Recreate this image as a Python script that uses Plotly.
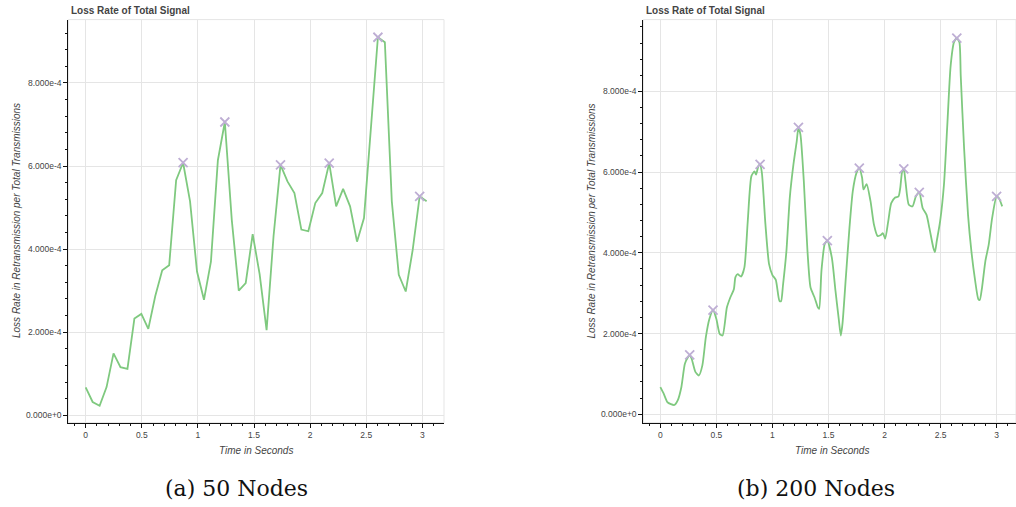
import plotly.graph_objects as go

SCALE = 1e-4

# ---------- (a) 50 nodes ----------
t50 = [0.000, 0.062, 0.124, 0.186, 0.248, 0.310, 0.372, 0.434, 0.496, 0.558,
       0.620, 0.682, 0.744, 0.806, 0.868, 0.930, 0.992, 1.054, 1.116, 1.178,
       1.240, 1.302, 1.364, 1.426, 1.488, 1.550, 1.612, 1.674, 1.736, 1.798,
       1.860, 1.922, 1.984, 2.046, 2.108, 2.170, 2.232, 2.294, 2.356, 2.418,
       2.480, 2.542, 2.604, 2.666, 2.728, 2.790, 2.852, 2.914, 2.976, 3.038]
loss50 = [0.67, 0.32, 0.23, 0.68, 1.49, 1.16, 1.12, 2.33, 2.44, 2.08,
          2.87, 3.49, 3.61, 5.66, 6.08, 5.15, 3.46, 2.78, 3.70, 6.14,
          7.06, 4.70, 3.00, 3.18, 4.36, 3.40, 2.05, 4.31, 6.03, 5.63,
          5.35, 4.47, 4.43, 5.11, 5.35, 6.07, 5.03, 5.45, 5.03, 4.18,
          4.75, 6.95, 9.10, 8.98, 5.15, 3.38, 2.98, 3.98, 5.27, 5.15]
peaks50_t = [0.868, 1.240, 1.736, 2.170, 2.604, 2.976]
peaks50_v = [6.08, 7.06, 6.03, 6.07, 9.10, 5.27]

# ---------- (b) 200 nodes ----------
t200 = [0.000, 0.030, 0.0625, 0.094, 0.125, 0.156, 0.1875, 0.219, 0.250, 0.262,
        0.280, 0.3125, 0.344, 0.375, 0.406, 0.4375, 0.470, 0.500, 0.530, 0.555,
        0.594, 0.625, 0.656, 0.670, 0.690, 0.720, 0.750, 0.780, 0.8125, 0.840,
        0.854, 0.875, 0.890, 0.906, 0.9375, 0.970, 1.000, 1.030, 1.0625, 1.077,
        1.094, 1.125, 1.155, 1.1875, 1.217, 1.232, 1.250, 1.280, 1.3125, 1.340,
        1.375, 1.405, 1.417, 1.4375, 1.467, 1.490, 1.530, 1.5625, 1.590, 1.610,
        1.625, 1.655, 1.6875, 1.717, 1.750, 1.775, 1.800, 1.8125, 1.840, 1.875,
        1.905, 1.9375, 1.967, 1.985, 2.006, 2.033, 2.060, 2.095, 2.125, 2.140,
        2.157, 2.172, 2.187, 2.217, 2.250, 2.280, 2.310, 2.340, 2.375, 2.400,
        2.436, 2.450, 2.466, 2.496, 2.530, 2.560, 2.590, 2.620, 2.645, 2.668,
        2.680, 2.710, 2.745, 2.775, 2.807, 2.837, 2.850, 2.870, 2.900, 2.930,
        2.960, 3.000, 3.020, 3.050]
loss200 = [0.67, 0.51, 0.30, 0.25, 0.23, 0.35, 0.67, 1.25, 1.43, 1.47,
           1.37, 1.05, 0.96, 1.21, 1.91, 2.36, 2.58, 2.36, 1.99, 1.95,
           2.65, 2.90, 3.10, 3.40, 3.47, 3.41, 3.64, 4.79, 5.90, 6.02,
           5.94, 6.15, 6.19, 5.98, 4.71, 3.72, 3.45, 3.33, 2.81, 2.80,
           3.19, 4.05, 5.37, 6.19, 6.77, 7.11, 6.93, 5.78, 4.05, 3.14,
           2.90, 2.65, 2.61, 3.56, 4.22, 4.30, 3.88, 3.06, 2.40, 1.95,
           2.24, 3.39, 4.63, 5.53, 5.98, 6.10, 5.86, 5.57, 5.70, 5.28,
           4.71, 4.42, 4.44, 4.49, 4.35, 4.78, 5.23, 5.37, 5.40, 5.60,
           6.01, 6.08, 5.77, 5.19, 5.15, 5.40, 5.50, 5.11, 4.94, 4.62,
           4.12, 4.02, 4.29, 4.78, 5.68, 7.16, 8.64, 9.22, 9.32, 9.22,
           8.39, 6.59, 4.94, 4.04, 3.34, 2.85, 2.83, 3.14, 3.80, 4.21,
           4.86, 5.40, 5.36, 5.15]
peaks200_t = [0.262, 0.470, 0.890, 1.232, 1.490, 1.775, 2.172, 2.310, 2.645, 3.000]
peaks200_v = [1.47, 2.58, 6.19, 7.11, 4.30, 6.10, 6.08, 5.50, 9.32, 5.40]

# ---------- axis text ----------
x_tickvals = [0, 0.5, 1, 1.5, 2, 2.5, 3]
x_ticktext = ["0", "0.5", "1", "1.5", "2", "2.5", "3"]
y_tickvals = [0, 2, 4, 6, 8]
y_ticktext = ["0.000e+0", "2.000e-4", "4.000e-4", "6.000e-4", "8.000e-4"]
title_text = "Loss Rate of Total Signal"
xlabel = "Time in Seconds"
ylabel = "Loss Rate in Retransmission per Total Transmissions"
captions = ["(a) 50 Nodes", "(b) 200 Nodes"]

W, H = 1016, 507
LINE = "#7fc97f"
MARK = "#beaed4"
GRID = "#e5e5e5"
AX = "#111111"
TXT = "#444444"
FONT = "Liberation Sans, Arial, sans-serif"

fig = go.Figure()

def add_panel(t, v, pt, pv, xa, ya, spline):
    fig.add_trace(go.Scatter(
        x=t, y=[a * SCALE for a in v], mode="lines",
        line=dict(color=LINE, width=1.8, shape="spline" if spline else "linear",
                  smoothing=0.6 if spline else None),
        xaxis=xa, yaxis=ya, showlegend=False, hoverinfo="skip"))
    fig.add_trace(go.Scatter(
        x=pt, y=[a * SCALE for a in pv], mode="markers",
        marker=dict(symbol="x-thin", size=9, line=dict(color=MARK, width=1.8), color=MARK),
        xaxis=xa, yaxis=ya, showlegend=False, hoverinfo="skip"))

add_panel(t50, loss50, peaks50_t, peaks50_v, "x", "y", False)
add_panel(t200, loss200, peaks200_t, peaks200_v, "x2", "y2", True)

def px_x(p):
    return p / W

def px_y(p):
    return (H - p) / H

def xaxis(domain, rng):
    return dict(
        domain=domain, range=rng, tickmode="array",
        tickvals=x_tickvals, ticktext=x_ticktext,
        showgrid=True, gridcolor=GRID, gridwidth=1, zeroline=False,
        showline=True, linecolor=AX, linewidth=1,
        ticks="outside", ticklen=4, tickcolor=AX, tickwidth=1,
        tickfont=dict(family=FONT, size=8.5, color=TXT),
        minor=dict(ticks="outside", ticklen=2.5, tickcolor=AX, dtick=0.1, tick0=0,
                   showgrid=False),
        fixedrange=True)

def yaxis(domain, rng, anchor):
    return dict(
        domain=domain, range=[r * SCALE for r in rng], anchor=anchor, tickmode="array",
        tickvals=[v * SCALE for v in y_tickvals], ticktext=y_ticktext,
        showgrid=True, gridcolor=GRID, gridwidth=1, zeroline=False,
        showline=True, linecolor=AX, linewidth=1,
        ticks="outside", ticklen=4, tickcolor=AX, tickwidth=1,
        tickfont=dict(family=FONT, size=8.5, color=TXT),
        minor=dict(ticks="outside", ticklen=2.5, tickcolor=AX, dtick=0.4 * SCALE, tick0=0,
                   showgrid=False),
        fixedrange=True)

dom_y = [px_y(422.7), px_y(19.6)]
fig.update_layout(
    width=W, height=H, margin=dict(l=0, r=0, t=0, b=0),
    paper_bgcolor="white", plot_bgcolor="white",
    xaxis=dict(xaxis([px_x(68.3), px_x(444)], [-0.155, 3.193]), anchor="y"),
    yaxis=yaxis(dom_y, [-0.178, 9.525], "x"),
    xaxis2=dict(xaxis([px_x(643.3), 1.0], [-0.152, 3.173]), anchor="y2"),
    yaxis2=yaxis(dom_y, [-0.21, 9.78], "x2"),
)

# frame outlines
for xr, yr in (("x domain", "y domain"), ("x2 domain", "y2 domain")):
    fig.add_shape(type="rect", xref=xr, yref=yr, x0=0, x1=1, y0=0, y1=1,
                  line=dict(color=GRID, width=1), layer="below")

ann = []
for xl, xc, ytc, yc in ((69.3, 256, 16, 221), (644.3, 832, 590.5, 221)):
    ann.append(dict(x=px_x(xl), y=px_y(10.8), xref="paper", yref="paper",
                    text="<b>" + title_text + "</b>", showarrow=False,
                    xanchor="left", yanchor="middle",
                    font=dict(family=FONT, size=10, color=TXT)))
    ann.append(dict(x=px_x(xc), y=px_y(450), xref="paper", yref="paper",
                    text="<i>" + xlabel + "</i>", showarrow=False,
                    xanchor="center", yanchor="middle",
                    font=dict(family=FONT, size=10, color=TXT)))
    ann.append(dict(x=px_x(ytc), y=px_y(yc), xref="paper", yref="paper",
                    text="<i>" + ylabel + "</i>", showarrow=False, textangle=-90,
                    xanchor="center", yanchor="middle",
                    font=dict(family=FONT, size=10, color=TXT)))
for cap, cx in zip(captions, (236.5, 816)):
    ann.append(dict(x=px_x(cx), y=px_y(488), xref="paper", yref="paper",
                    text=cap, showarrow=False, xanchor="center", yanchor="middle",
                    font=dict(family="DejaVu Serif, serif", size=22, color="#111111")))
fig.update_layout(annotations=ann)

fig.write_html("out.html", config={"displayModeBar": False})
